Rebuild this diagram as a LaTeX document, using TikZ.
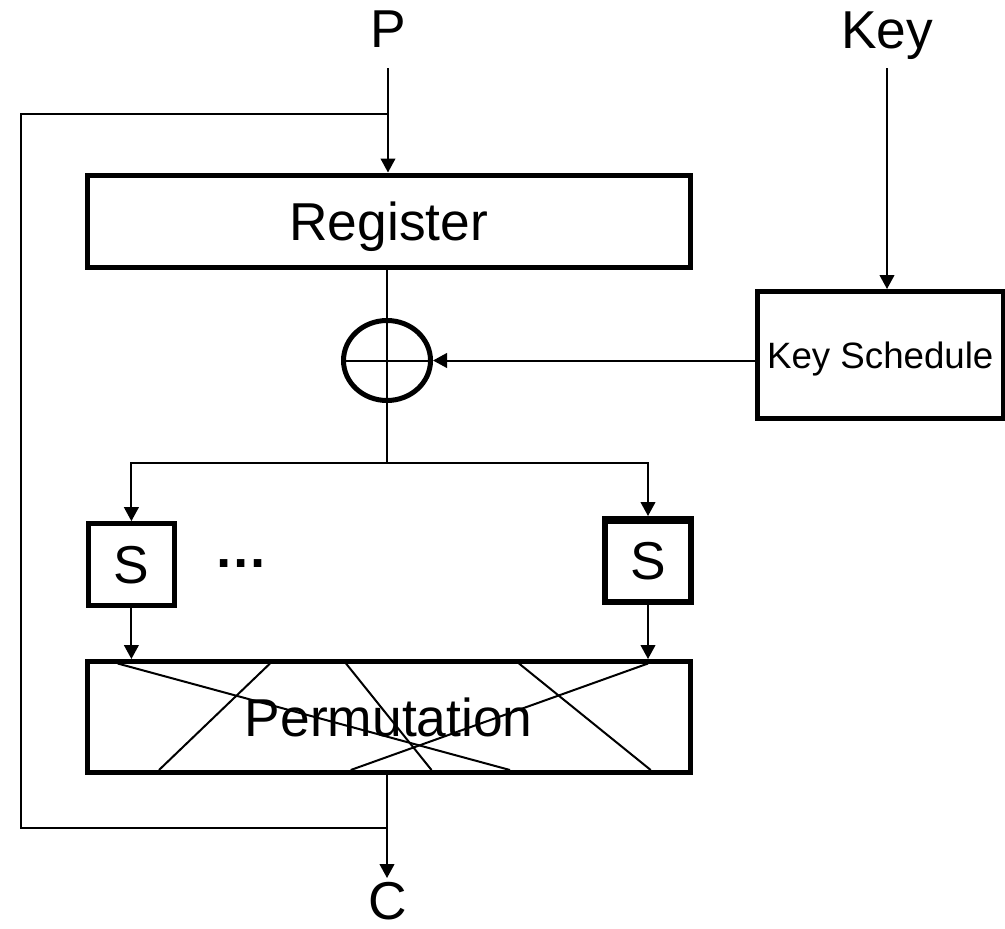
\documentclass[tikz,border=0pt]{standalone}
\usepackage{fontspec}
\setmainfont{Liberation Sans}
\usetikzlibrary{arrows.meta,shapes.geometric}
\begin{document}
\begin{tikzpicture}[x=0.75pt,y=-0.75pt,
  conn/.style={line width=1.5pt},
  arr/.style={conn,-{Triangle[length=10.5pt,width=11pt]}},
  box/.style={draw,rectangle,line width=3.75pt,inner sep=0pt,text depth=0pt},
  big/.style={font=\fontsize{40}{48}\selectfont},
  lbl/.style={big,anchor=base,inner sep=0pt},
  xorop/.style={draw,ellipse,line width=3.75pt,inner sep=0pt,minimum width=65.25pt,minimum height=60pt},
]
\useasboundingbox (0,0) rectangle (1005,928);

% labels
\node[lbl] (p) at (388,47) {P};
\node[lbl] (key) at (887,48) {Key};
\node[lbl] (c) at (388,919) {C};

% boxes
\node[box,big,minimum width=451.9pt,minimum height=69pt] (reg) at (388.75,221) {Register};
\node[xorop] (xor) at (387,360.5) {};
\node[box,font=\fontsize{27.5}{33}\selectfont,minimum width=184.1pt,minimum height=95.6pt] (ks) at (880.25,355.25) {Key Schedule};
\node[box,big,line width=3.5pt,minimum width=64.5pt,minimum height=61.7pt] (s1) at (131.4,564.6) {S};
\node[box,big,line width=4.5pt,minimum width=64.5pt,minimum height=62.25pt] (s2) at (648,560.5) {S};
\fill (601.7,515.7) rectangle (694,524);
\node[lbl,font=\fontsize{40}{48}\selectfont\bfseries] (dots) at (241,567) {…};
\node[box,big,minimum width=451.9pt,minimum height=83.25pt] (perm) at (388.75,717) {Permutation};

% permutation wiring
\begin{scope}[conn]
\draw (117.7,663.5) -- (510,770);
\draw (270,663.5) -- (159,770);
\draw (346,663.5) -- (431.5,770);
\draw (519,663.5) -- (650.7,770);
\draw (648,663.5) -- (350.7,770);
\end{scope}

% xor cross
\draw[conn] (xor.west) ++(2.8pt,0) -- ([xshift=-2.8pt]xor.east);

% coordinates
\coordinate (pin) at (388,68);
\coordinate (fb1) at (388,114);
\coordinate (fb2) at (20.7,114);
\coordinate (fb3) at (20.7,828);
\coordinate (fb4) at (387,828);
\coordinate (kin) at (887,68);
\coordinate (split) at (387,463);
\coordinate (cout) at (387,878);

% connectors
\draw[arr] (pin) -- (pin |- reg.north);
\draw[conn] (fb1) -- (fb2) -- (fb3) -- (fb4);
\draw[arr] (kin) -- (kin |- ks.north);
\draw[conn] (reg.south -| xor.north) -- (xor.south);
\draw[arr] (ks.west |- xor.east) -- (xor.east);
\draw[conn] (xor.south) -- (split);
\draw[arr] (split) -| (s1.north);
\draw[arr] (split) -| (s2.north);
\draw[arr] (s1.south) -- (s1.south |- perm.north);
\draw[arr] (s2.south) -- (s2.south |- perm.north);
\draw[arr] (perm.south -| split) -- (cout);
\end{tikzpicture}
\end{document}
